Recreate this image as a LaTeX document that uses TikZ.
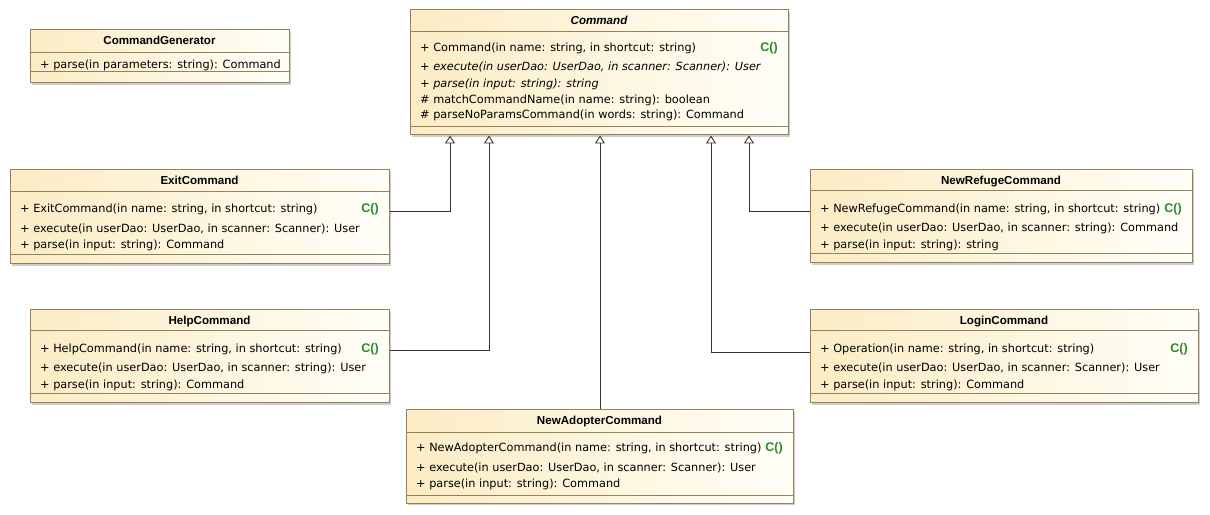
\documentclass[tikz,border=0pt]{standalone}
\usepackage{fontspec}
\setmainfont{DejaVu Sans}
\newfontfamily\titlefont{Liberation Sans}
\usetikzlibrary{arrows.meta,fit}
\definecolor{boxL}{RGB}{251,236,196}
\definecolor{boxR}{RGB}{255,254,248}
\definecolor{bordc}{RGB}{150,130,90}
\definecolor{shadc}{RGB}{205,205,205}
\definecolor{ctorc}{RGB}{40,140,40}
\definecolor{linec}{RGB}{60,50,35}
\newcommand{\memberfont}{\fontsize{11.3bp}{13.6bp}\selectfont}
\newcommand{\umlclass}[7]{%
  \fill[shadc] (#2+2,#3+2) rectangle (#4+2,#5+2);
  \shade[left color=boxL, right color=boxR] (#2,#3) rectangle (#4,#5);
  \draw[bordc, line width=1bp] (#2,#6) -- (#4,#6) (#2,#7) -- (#4,#7);
  \node[classbox, fit={(#2,#3) (#4,#5)}] (#1) {};
}
\begin{document}
\begin{tikzpicture}[x=1bp,y=-1bp,
  classbox/.style={draw=bordc, line width=1bp, inner sep=0pt},
  member/.style={anchor=base west, inner sep=0pt, font=\memberfont},
  ctitle/.style={anchor=base, inner sep=0pt, font=\titlefont\bfseries\fontsize{11.6bp}{13bp}\selectfont},
  ctor/.style={anchor=base east, inner sep=0pt, text=ctorc, font=\titlefont\bfseries\fontsize{12.5bp}{13bp}\selectfont},
  gen/.style={draw=linec, line width=0.9bp, {Triangle[open,width=10bp,length=8bp,line width=0.9bp]}-}]
\useasboundingbox (0,0) rectangle (1210,515);
\fill[white] (0,0) rectangle (1210,515);

% CommandGenerator
\umlclass{gen}{30}{30}{289}{83}{53}{72}
\node[ctitle] (genT) at (159.5,44.7) {CommandGenerator};
\node[member] (genM1) at (40,68.3) {+ parse(in parameters: string): Command};

% Command
\umlclass{cmd}{410}{10}{788}{135}{32}{127}
\node[ctitle, font=\titlefont\bfseries\itshape\fontsize{11.6bp}{13bp}\selectfont] (cmdT) at (599,24.7) {Command};
\node[member] (cmdM1) at (420,51.7) {+ Command(in name: string, in shortcut: string)};
\node[ctor] (cmdC) at (778,51.7) {C()};
\node[member, font=\memberfont\itshape] (cmdM2) at (420,71) {+ execute(in userDao: UserDao, in scanner: Scanner): User};
\node[member, font=\memberfont\itshape] (cmdM3) at (420,87.7) {+ parse(in input: string): string};
\node[member] (cmdM4) at (420,103.3) {\# matchCommandName(in name: string): boolean};
\node[member] (cmdM5) at (420,119) {\# parseNoParamsCommand(in words: string): Command};

% ExitCommand
\umlclass{exit}{10}{170}{389}{264}{192}{255}
\node[ctitle] (exitT) at (199.5,185) {ExitCommand};
\node[member] (exitM1) at (20,212.3) {+ ExitCommand(in name: string, in shortcut: string)};
\node[ctor] (exitC) at (379,212.3) {C()};
\node[member] (exitM2) at (20,232.3) {+ execute(in userDao: UserDao, in scanner: Scanner): User};
\node[member] (exitM3) at (20,248.3) {+ parse(in input: string): Command};

% HelpCommand
\umlclass{help}{30}{310}{389}{403}{331}{394}
\node[ctitle] (helpT) at (209.5,324.7) {HelpCommand};
\node[member] (helpM1) at (40,352.3) {+ HelpCommand(in name: string, in shortcut: string)};
\node[ctor] (helpC) at (379,352.3) {C()};
\node[member] (helpM2) at (40,371.7) {+ execute(in userDao: UserDao, in scanner: string): User};
\node[member] (helpM3) at (40,388.3) {+ parse(in input: string): Command};

% NewAdopterCommand
\umlclass{adopt}{406}{410}{793}{503}{432}{495}
\node[ctitle] (adoptT) at (599.5,424.7) {NewAdopterCommand};
\node[member] (adoptM1) at (416,451.7) {+ NewAdopterCommand(in name: string, in shortcut: string)};
\node[ctor] (adoptC) at (783,451.7) {C()};
\node[member] (adoptM2) at (416,471.7) {+ execute(in userDao: UserDao, in scanner: Scanner): User};
\node[member] (adoptM3) at (416,487.3) {+ parse(in input: string): Command};

% NewRefugeCommand
\umlclass{refuge}{810}{170}{1192}{263}{191}{254}
\node[ctitle] (refugeT) at (1001,185) {NewRefugeCommand};
\node[member] (refugeM1) at (820,212.3) {+ NewRefugeCommand(in name: string, in shortcut: string)};
\node[ctor] (refugeC) at (1182,212.3) {C()};
\node[member] (refugeM2) at (820,231.7) {+ execute(in userDao: UserDao, in scanner: string): Command};
\node[member] (refugeM3) at (820,248.3) {+ parse(in input: string): string};

% LoginCommand
\umlclass{login}{810}{310}{1198}{403}{331}{394}
\node[ctitle] (loginT) at (1004,324.7) {LoginCommand};
\node[member] (loginM1) at (820,352.3) {+ Operation(in name: string, in shortcut: string)};
\node[ctor] (loginC) at (1188,352.3) {C()};
\node[member] (loginM2) at (820,371.7) {+ execute(in userDao: UserDao, in scanner: Scanner): User};
\node[member] (loginM3) at (820,388.3) {+ parse(in input: string): Command};

% generalizations
\draw[gen] (cmd.south -| 450,0) |- (exit.east |- 0,211);
\draw[gen] (cmd.south -| 489,0) |- (help.east |- 0,350);
\draw[gen] (cmd.south -| 600,0) -- (adopt.north -| 600,0);
\draw[gen] (cmd.south -| 711,0) |- (login.west |- 0,352);
\draw[gen] (cmd.south -| 749,0) |- (refuge.west |- 0,211);
\end{tikzpicture}
\end{document}
